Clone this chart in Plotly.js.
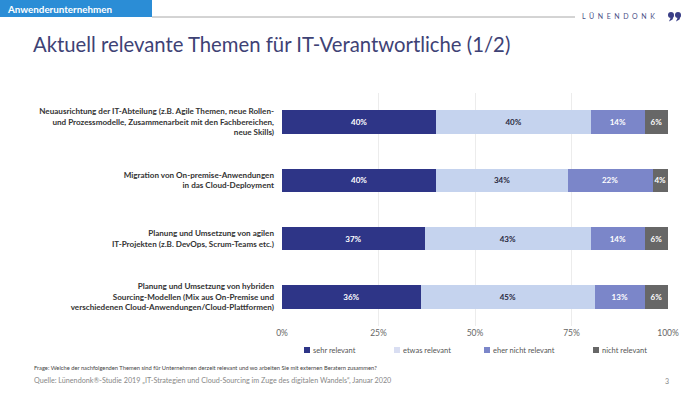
<!DOCTYPE html>
<html><head><meta charset="utf-8">
<script src="https://cdn.plot.ly/plotly-3.0.1.min.js"></script>
<style>html,body{margin:0;padding:0;background:#fff;}#chart{width:700px;height:393px;}</style>
</head><body><div id="chart"></div>
<script>
const categories = [
  "Neuausrichtung der IT-Abteilung (z.B. Agile Themen, neue Rollen-<br>und Prozessmodelle, Zusammenarbeit mit den Fachbereichen,<br>neue Skills)",
  "Migration von On-premise-Anwendungen<br>in das Cloud-Deployment",
  "Planung und Umsetzung von agilen<br>IT-Projekten (z.B. DevOps, Scrum-Teams etc.)",
  "Planung und Umsetzung von hybriden<br>Sourcing-Modellen (Mix aus On-Premise und<br>verschiedenen Cloud-Anwendungen/Cloud-Plattformen)"
];
const seriesNames = ["sehr relevant", "etwas relevant", "eher nicht relevant", "nicht relevant"];
const sehrRelevant = [40, 40, 37, 36];
const etwasRelevant = [40, 34, 43, 45];
const eherNichtRelevant = [14, 22, 14, 13];
const nichtRelevant = [6, 4, 6, 6];
const tickVals = [0, 25, 50, 75, 100];
const tickLabels = ["0%", "25%", "50%", "75%", "100%"];

const colors = ["#2e3587", "#c5d3ee", "#7b86c9", "#676767"];
const legendColors = ["#2e3587", "#d9def2", "#7b86c9", "#676767"];
const textColors = ["#ffffff", "#2a2a40", "#ffffff", "#ffffff"];
const values = [sehrRelevant, etwasRelevant, eherNichtRelevant, nichtRelevant];
const font = "Lato, 'Open Sans', sans-serif";

const traces = values.map((v, i) => ({
  type: "bar", orientation: "h", name: seriesNames[i],
  y: categories, x: v,
  marker: {color: colors[i]},
  text: v.map(d => d + "%"), textposition: "inside", insidetextanchor: "middle",
  textangle: 0, constraintext: "none",
  textfont: {family: font, size: 8, color: textColors[i], weight: "bold"},
  hoverinfo: "skip", width: 0.4, showlegend: false
}));

const pxX = x => (x - 282) / 386;
const pxY = y => (326 - y) / 233;

// small "99" logo mark drawn as shapes
const logoMark = [];
[668, 675].forEach(x => {
  logoMark.push({type: "circle", xref: "paper", yref: "paper", x0: pxX(x), x1: pxX(x + 6), y0: pxY(18), y1: pxY(12),
    fillcolor: "#3a3f87", line: {width: 0}});
  logoMark.push({type: "path", xref: "paper", yref: "paper", fillcolor: "#3a3f87", line: {width: 0},
    path: `M ${pxX(x + 6)},${pxY(15)} L ${pxX(x + 4.5)},${pxY(19.5)} L ${pxX(x + 1)},${pxY(21.5)} L ${pxX(x + 2.5)},${pxY(18)} Z`});
});

const layout = {
  width: 700, height: 393,
  margin: {l: 282, r: 32, t: 93, b: 67},
  barmode: "stack",
  paper_bgcolor: "#ffffff", plot_bgcolor: "#ffffff",
  font: {family: font},
  xaxis: {range: [0, 100], tickvals: tickVals, ticktext: tickLabels, showgrid: true,
    gridcolor: "#ececec", gridwidth: 1, zeroline: false, showline: false,
    tickfont: {size: 8.5, color: "#666666"}, ticks: "", fixedrange: true},
  yaxis: {autorange: "reversed", tickfont: {size: 8.1, color: "#333333", weight: "bold"},
    ticks: "", ticklabelstandoff: 7, showgrid: false, zeroline: false, fixedrange: true},
  showlegend: false,
  shapes: [
    {type: "rect", xref: "paper", yref: "paper", x0: pxX(0), x1: pxX(152), y0: pxY(17), y1: pxY(0), fillcolor: "#2b8dd6", line: {width: 0}},
    {type: "line", xref: "paper", yref: "paper", x0: pxX(152), x1: pxX(575), y0: pxY(17), y1: pxY(17), line: {color: "#a8a8a8", width: 1}}
  ].concat(logoMark),
  annotations: [
    {xref: "paper", yref: "paper", x: pxX(5), y: pxY(8.5), xanchor: "left", yanchor: "middle", showarrow: false,
     text: "<b>Anwenderunternehmen</b>", font: {family: font, size: 9.8, color: "#ffffff"}},
    {xref: "paper", yref: "paper", x: pxX(580), y: pxY(15.5), xanchor: "left", yanchor: "middle", showarrow: false,
     text: "L\u00a0\u00a0Ü\u00a0\u00a0N\u00a0\u00a0E\u00a0\u00a0N\u00a0\u00a0D\u00a0\u00a0O\u00a0\u00a0N\u00a0\u00a0K", font: {family: font, size: 7, color: "#4a4f86"}},
    {xref: "paper", yref: "paper", x: pxX(31), y: pxY(44), xanchor: "left", yanchor: "middle", showarrow: false,
     text: "Aktuell relevante Themen für IT-Verantwortliche (1/2)", font: {family: font, size: 20.3, color: "#3e4275"}},
    {xref: "paper", yref: "paper", x: pxX(32), y: pxY(367), xanchor: "left", yanchor: "middle", showarrow: false,
     text: "Frage: Welche der nachfolgenden Themen sind für Unternehmen derzeit relevant und wo arbeiten Sie mit externen Beratern zusammen?", font: {family: font, size: 5.75, color: "#444444"}},
    {xref: "paper", yref: "paper", x: pxX(32), y: pxY(380.5), xanchor: "left", yanchor: "middle", showarrow: false,
     text: "Quelle: Lünendonk®-Studie 2019 „IT-Strategien und Cloud-Sourcing im Zuge des digitalen Wandels“, Januar 2020", font: {family: font, size: 7.2, color: "#888888"}},
    {xref: "paper", yref: "paper", x: pxX(667), y: pxY(380.5), xanchor: "center", yanchor: "middle", showarrow: false,
     text: "3", font: {family: font, size: 7, color: "#888888"}}
  ]
};

// legend built from the series names and colours
const legendX = [307, 397, 487, 596];
seriesNames.forEach((name, i) => {
  layout.shapes.push({type: "rect", xref: "paper", yref: "paper",
    x0: pxX(legendX[i] - 3), x1: pxX(legendX[i] + 3), y0: pxY(353), y1: pxY(347),
    fillcolor: legendColors[i], line: {width: 0}});
  layout.annotations.push({xref: "paper", yref: "paper", x: pxX(legendX[i] + 4), y: pxY(350),
    xanchor: "left", yanchor: "middle", showarrow: false, text: name,
    font: {family: font, size: 7.5, color: "#555555"}});
});

Plotly.newPlot("chart", traces, layout, {displayModeBar: false, staticPlot: true});
</script></body></html>
